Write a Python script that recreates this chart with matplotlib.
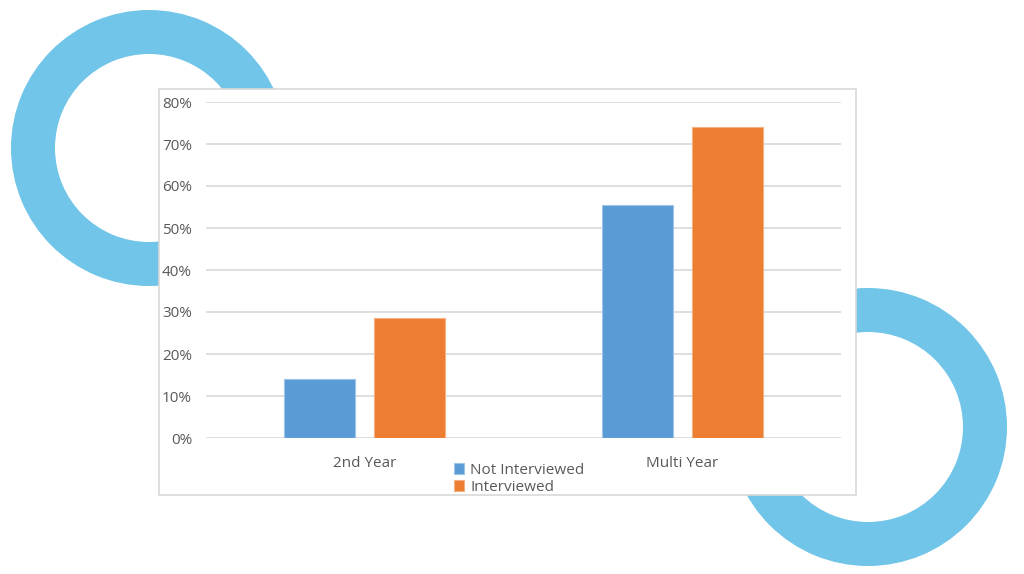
import matplotlib
matplotlib.use("Agg")
import matplotlib.pyplot as plt
from matplotlib.patches import Wedge, Rectangle
from matplotlib.ticker import PercentFormatter
import numpy as np

categories = ["2nd Year", "Multi Year"]
not_interviewed = [0.14, 0.555]
interviewed = [0.286, 0.74]
series_names = ["Not Interviewed", "Interviewed"]

plt.rcParams['font.family'] = ['Open Sans', 'DejaVu Sans']

W, H = 1024, 574
fig = plt.figure(figsize=(W / 100, H / 100), dpi=100)
fig.patch.set_facecolor("white")

# background layer in pixel coordinates
bg = fig.add_axes([0, 0, 1, 1])
bg.set_xlim(0, W)
bg.set_ylim(H, 0)
bg.axis("off")
ring = "#71C5E8"
bg.add_patch(Wedge((149, 148), 138, 0, 360, width=44, color=ring, lw=0))
bg.add_patch(Wedge((868, 427), 139, 0, 360, width=44, color=ring, lw=0))
bg.add_patch(Rectangle((159, 89), 697, 406, facecolor="white",
                       edgecolor="#d9d9d9", lw=1.2))

# chart area
ax = fig.add_axes([206 / W, 1 - 438 / H, 635 / W, 336 / H])
ax.patch.set_alpha(0)
x = np.arange(len(categories))
bw = 0.224
off = 0.142
ax.bar(x - off, not_interviewed, bw, color="#5B9BD5", edgecolor="#9cc3ea",
       lw=0.8, label=series_names[0], zorder=3)
ax.bar(x + off, interviewed, bw, color="#ED7D31", edgecolor="#f4b183",
       lw=0.8, label=series_names[1], zorder=3)

ax.set_xlim(-0.5, 1.5)
ax.set_ylim(0, 0.8)
ax.set_yticks(np.arange(0, 0.81, 0.1))
ax.yaxis.set_major_formatter(PercentFormatter(1.0, decimals=0))
ax.grid(axis="y", color="#d9d9d9", lw=1.2, zorder=0)
for s in ax.spines.values():
    s.set_visible(False)
ax.set_xticks(x)
ax.set_xticklabels(categories)
ax.tick_params(axis="both", length=0, colors="#595959", labelsize=11)
ax.tick_params(axis="y", pad=10)
ax.tick_params(axis="x", pad=13)

fig.legend(loc="upper left", bbox_to_anchor=(446 / W, 1 - 455 / H),
           frameon=False, fontsize=11, labelcolor="#595959",
           handlelength=0.7, handleheight=0.7, handletextpad=0.4,
           labelspacing=0.15, borderpad=0)

fig.savefig("out.png", dpi=100)
